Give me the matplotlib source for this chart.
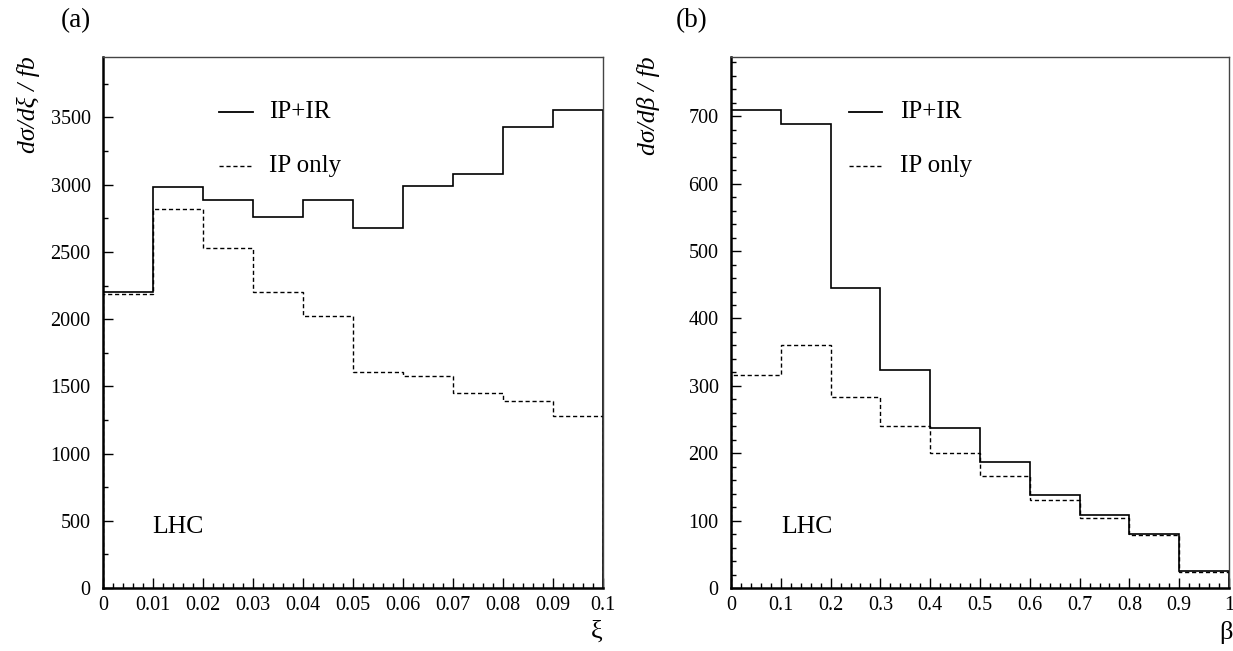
import numpy as np
import matplotlib
matplotlib.use("Agg")
import matplotlib.pyplot as plt
from matplotlib.ticker import MultipleLocator, FuncFormatter

plt.rcParams['font.family'] = ['Liberation Serif', 'DejaVu Serif']

# ---- data ----
xi_edges = np.round(np.arange(0, 0.1001, 0.01), 3)
xi_ipir = [2200, 2980, 2887, 2761, 2887, 2680, 2993, 3079, 3426, 3557]
xi_iponly = [2190, 2823, 2532, 2204, 2027, 1606, 1579, 1453, 1391, 1276]

beta_edges = np.round(np.arange(0, 1.001, 0.1), 2)
beta_ipir = [709, 689, 445, 324, 238, 187, 138, 108, 80, 25]
beta_iponly = [316, 360, 283, 240, 201, 166, 130, 104, 78, 24]

xi_ticks = [0, 0.01, 0.02, 0.03, 0.04, 0.05, 0.06, 0.07, 0.08, 0.09, 0.1]
xi_ticklabels = ['0', '0.01', '0.02', '0.03', '0.04', '0.05', '0.06', '0.07', '0.08', '0.09', '0.1']
beta_ticks = [0, 0.1, 0.2, 0.3, 0.4, 0.5, 0.6, 0.7, 0.8, 0.9, 1.0]
beta_ticklabels = ['0', '0.1', '0.2', '0.3', '0.4', '0.5', '0.6', '0.7', '0.8', '0.9', '1']

W, H = 1233, 651
fig = plt.figure(figsize=(W / 100, H / 100), dpi=100)


def px(x0, y0, x1, y1):
    return [x0 / W, 1 - y1 / H, (x1 - x0) / W, (y1 - y0) / H]


def style_axes(ax, xticks, xlabels, xminor, ymaj, ymin_step):
    ax.set_xticks(xticks)
    ax.set_xticklabels(xlabels)
    ax.xaxis.set_minor_locator(MultipleLocator(xminor))
    ax.yaxis.set_major_locator(MultipleLocator(ymaj))
    ax.yaxis.set_minor_locator(MultipleLocator(ymin_step))
    ax.yaxis.set_major_formatter(FuncFormatter(lambda v, p: f"{int(round(v))}"))
    ax.tick_params(which='both', direction='in', top=False, right=False,
                   labelsize=14.5, color='black')
    ax.tick_params(which='major', length=7, width=1.0)
    ax.tick_params(which='minor', length=3.5, width=1.0)
    ax.tick_params(axis='x', pad=6)
    ax.tick_params(axis='y', pad=9)
    for s in ['left', 'bottom']:
        ax.spines[s].set_linewidth(1.8)
        ax.spines[s].set_color('black')
    for s in ['top', 'right']:
        ax.spines[s].set_linewidth(1.0)
        ax.spines[s].set_color('#444444')


# ---- panel (a) ----
ax1 = fig.add_axes(px(103, 57, 603, 588))
ax1.stairs(xi_ipir, xi_edges, color='black', lw=1.2)
ax1.stairs(xi_iponly, xi_edges, color='black', lw=1.0, linestyle=(0, (3, 2)))
ax1.set_xlim(0, 0.1)
ax1.set_ylim(0, 3950)
style_axes(ax1, xi_ticks, xi_ticklabels, 0.002, 500, 250)

# ---- panel (b) ----
ax2 = fig.add_axes(px(731, 57, 1229, 588))
ax2.stairs(beta_ipir, beta_edges, color='black', lw=1.2)
ax2.stairs(beta_iponly, beta_edges, color='black', lw=1.0, linestyle=(0, (3, 2)))
ax2.set_xlim(0, 1)
ax2.set_ylim(0, 788)
style_axes(ax2, beta_ticks, beta_ticklabels, 0.02, 100, 20)

# ---- texts ----
def ftxt(x, y, s, **kw):
    fig.text(x / W, 1 - y / H, s, **kw)

ftxt(61, 21, '(a)', fontsize=19.5, ha='left', va='center')
ftxt(676, 21, '(b)', fontsize=19.5, ha='left', va='center')

ftxt(28, 56, 'd\u03c3/d\u03be / fb', fontsize=18.5, style='italic', rotation=90,
     ha='center', va='top')
ftxt(649, 56, 'd\u03c3/d\u03b2 / fb', fontsize=18.5, style='italic', rotation=90,
     ha='center', va='top')

ftxt(597, 632, '\u03be', fontsize=19, ha='center', va='center')
ftxt(1226, 633, '\u03b2', fontsize=19, ha='center', va='center')

# legends (manual, in figure pixel space)
for (lx0, lx1, tx) in [(219, 253, 269), (849, 882, 900)]:
    fig.add_artist(plt.Line2D([lx0 / W, lx1 / W], [1 - 112 / H, 1 - 112 / H],
                              color='black', lw=1.3))
    fig.add_artist(plt.Line2D([lx0 / W, lx1 / W], [1 - 166 / H, 1 - 166 / H],
                              color='black', lw=1.0, linestyle=(0, (3, 2))))
    ftxt(tx, 112, 'IP+IR', fontsize=18, ha='left', va='center')
    ftxt(tx, 166, 'IP only', fontsize=18, ha='left', va='center')

ftxt(152, 527, 'LHC', fontsize=18.5, ha='left', va='center')
ftxt(781, 527, 'LHC', fontsize=18.5, ha='left', va='center')

fig.savefig('out.png', dpi=100)
